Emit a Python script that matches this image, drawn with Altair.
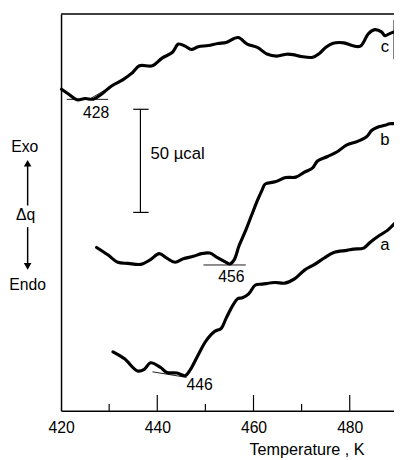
import altair as alt
import pandas as pd

# ---- data (Temperature in K, heat signal in µcal, arbitrary baseline) ----
c_T = [420.1, 421.6, 423.3, 425.0, 426.7, 428.4, 430.5, 432.9, 434.9, 436.3, 439.0, 441.0,
       443.1, 444.4, 445.8, 447.1, 448.5, 450.6, 452.6, 454.3, 456.8, 458.7, 460.8, 462.8,
       464.8, 466.9, 468.2, 469.9, 472.3, 473.7, 475.0, 476.4, 478.8, 480.5, 482.2, 483.9,
       485.2, 486.6, 487.3, 488.3, 489.2]
c_q = [155.9, 153.5, 150.8, 151.4, 151.1, 153.5, 157.5, 160.6, 164.1, 167.3, 167.3, 171.0,
       173.7, 177.8, 176.8, 175.2, 176.5, 177.1, 178.1, 178.6, 181.0, 177.8, 176.2, 173.0,
       172.0, 172.9, 172.7, 171.8, 171.4, 173.3, 176.2, 178.1, 178.4, 177.1, 176.8, 182.9,
       184.8, 183.7, 181.9, 182.9, 183.7]

b_T = [427.4, 429.8, 431.8, 433.9, 436.6, 438.6, 440.4, 442.0, 443.7, 445.4, 447.5, 449.2,
       450.9, 452.6, 454.3, 455.1, 456.0, 457.0, 458.4, 459.6, 460.8, 461.8, 462.4, 464.5,
       466.7, 468.8, 470.6, 472.3, 473.3, 475.4, 477.4, 479.4, 481.5, 483.5, 484.6, 485.9,
       487.3, 488.3, 489.3]
b_q = [79.2, 75.5, 72.0, 71.5, 71.0, 73.3, 76.2, 74.0, 72.0, 73.7, 74.9, 76.2,
       76.5, 74.1, 72.0, 71.2, 73.3, 80.0, 87.6, 94.8, 101.9, 107.1, 109.9, 111.0,
       113.1, 113.3, 115.7, 117.8, 121.1, 123.3, 125.6, 128.9, 130.5, 132.9, 136.0, 137.6,
       138.4, 139.2, 139.2]

a_T = [430.8, 433.2, 435.9, 437.3, 438.6, 440.7, 442.0, 444.1, 445.8, 446.8, 448.5, 450.1,
       451.9, 453.3, 454.3, 455.7, 456.7, 457.7, 459.0, 460.4, 461.8, 464.5, 466.5, 468.6,
       470.6, 472.7, 474.7, 476.7, 479.4, 480.8, 482.9, 484.2, 486.3, 487.9, 489.3]
a_q = [28.6, 25.2, 19.3, 20.1, 23.3, 21.0, 18.6, 18.3, 17.0, 19.7, 27.1, 33.8,
       38.4, 40.0, 44.8, 51.1, 54.3, 54.8, 56.7, 61.0, 61.4, 62.2, 61.9, 64.1,
       68.2, 71.0, 74.1, 76.8, 77.8, 78.4, 78.9, 81.6, 85.2, 87.6, 90.8]

# thin construction lines (onset baselines and tangent)
guide_id = ["c_base", "c_base", "c_tan", "c_tan", "b_base", "b_base", "a_base", "a_base"]
guide_T = [421.2, 429.8, 425.7, 435.2, 449.6, 458.4, 439.0, 446.1]
guide_q = [151.0, 151.0, 150.8, 163.8, 70.7, 70.7, 18.9, 16.2]

# annotations
onset_labels = ["428", "456", "446"]
onset_T = [427.3, 455.4, 448.8]
onset_q = [144.3, 65.0, 12.4]

curve_labels = ["c", "b", "a"]
curve_lab_T = [487.3, 487.3, 487.3]
curve_lab_q = [176.2, 131.4, 80.5]

scale_T = [436.5]
scale_q_low = [96.2]
scale_q_high = [146.2]
scale_cap_T1 = [435.0]
scale_cap_T2 = [438.2]
scale_text = ["50 \u00b5cal"]
scale_text_T = [438.6]
scale_text_q = [124.3]

major_ticks = [440, 460, 480]
minor_ticks = [430, 450, 470]
x_labels = [420, 440, 460, 480]

FONT = "Liberation Sans"
W, H = 339, 404

xs = alt.Scale(domain=[420, 489.2], nice=False, zero=False)
ys = alt.Scale(domain=[0, 192.4], nice=False, zero=False)

curves = pd.DataFrame({
    "T": c_T + b_T + a_T,
    "q": c_q + b_q + a_q,
    "series": ["c"] * len(c_T) + ["b"] * len(b_T) + ["a"] * len(a_T),
})

base_line = alt.Chart(curves).mark_line(
    color="black", strokeWidth=3.2, interpolate="catmull-rom", strokeCap="round", strokeJoin="round"
).encode(
    x=alt.X("T:Q", scale=xs, axis=alt.Axis(
        values=x_labels, ticks=False, grid=False, domainColor="black", domainWidth=1.5,
        labelFont=FONT, labelFontSize=16, labelColor="black", labelPadding=9, labelFlush=False,
        title="Temperature , K", titleFont=FONT, titleFontSize=16.5, titleFontWeight="normal",
        titleColor="black", titleX=250, titleY=45, titleAlign="center", titleBaseline="alphabetic")),
    y=alt.Y("q:Q", scale=ys, axis=alt.Axis(
        labels=False, ticks=False, grid=False, title=None, domainColor="black", domainWidth=1.5)),
    detail="series:N",
)

guides = alt.Chart(pd.DataFrame({"id": guide_id, "T": guide_T, "q": guide_q})).mark_line(
    color="black", strokeWidth=0.9
).encode(x=alt.X("T:Q", scale=xs), y=alt.Y("q:Q", scale=ys), detail="id:N")

onset = alt.Chart(pd.DataFrame({"lab": onset_labels, "T": onset_T, "q": onset_q})).mark_text(
    font=FONT, fontSize=16, color="black", align="center", baseline="middle"
).encode(x=alt.X("T:Q", scale=xs), y=alt.Y("q:Q", scale=ys), text="lab:N")

clabs = alt.Chart(pd.DataFrame({"lab": curve_labels, "T": curve_lab_T, "q": curve_lab_q})).mark_text(
    font=FONT, fontSize=17, color="black", align="center", baseline="middle"
).encode(x=alt.X("T:Q", scale=xs), y=alt.Y("q:Q", scale=ys), text="lab:N")

sb_df = pd.DataFrame({"T": scale_T, "lo": scale_q_low, "hi": scale_q_high,
                      "c1": scale_cap_T1, "c2": scale_cap_T2})
sbar = alt.Chart(sb_df).mark_rule(color="black", strokeWidth=1.2).encode(
    x=alt.X("T:Q", scale=xs), y=alt.Y("lo:Q", scale=ys), y2="hi:Q")
cap_top = alt.Chart(sb_df).mark_rule(color="black", strokeWidth=1.2).encode(
    x=alt.X("c1:Q", scale=xs), x2="c2:Q", y=alt.Y("hi:Q", scale=ys))
cap_bot = alt.Chart(sb_df).mark_rule(color="black", strokeWidth=1.2).encode(
    x=alt.X("c1:Q", scale=xs), x2="c2:Q", y=alt.Y("lo:Q", scale=ys))
sb_text = alt.Chart(pd.DataFrame({"t": scale_text, "T": scale_text_T, "q": scale_text_q})).mark_text(
    font=FONT, fontSize=17, color="black", align="left", baseline="middle"
).encode(x=alt.X("T:Q", scale=xs), y=alt.Y("q:Q", scale=ys), text="t:N")

maj = alt.Chart(pd.DataFrame({"T": major_ticks})).mark_rule(color="black", strokeWidth=1.2).encode(
    x=alt.X("T:Q", scale=xs), y=alt.value(H), y2=alt.value(H - 16))
mino = alt.Chart(pd.DataFrame({"T": minor_ticks})).mark_rule(color="black", strokeWidth=1.2).encode(
    x=alt.X("T:Q", scale=xs), y=alt.value(H), y2=alt.value(H - 7))

one = pd.DataFrame({"k": [0]})
top_line = alt.Chart(one).mark_rule(color="black", strokeWidth=1.5).encode(
    x=alt.value(0), x2=alt.value(W), y=alt.value(0))
right_line = alt.Chart(one).mark_rule(color="black", strokeWidth=1).encode(
    x=alt.value(W), y=alt.value(6), y2=alt.value(46))

def side_text(t, x, y):
    return alt.Chart(pd.DataFrame({"t": [t]})).mark_text(
        font=FONT, fontSize=16, color="black", align="center", baseline="middle"
    ).encode(x=alt.value(x), y=alt.value(y), text="t:N")

exo = side_text("Exo", -37, 136)
dq = side_text("\u0394q", -36, 205)
endo = side_text("Endo", -34, 276)
arr_up = alt.Chart(one).mark_rule(color="black", strokeWidth=1.5).encode(
    x=alt.value(-34), y=alt.value(153), y2=alt.value(195))
arr_dn = alt.Chart(one).mark_rule(color="black", strokeWidth=1.5).encode(
    x=alt.value(-34), y=alt.value(217), y2=alt.value(256))
head_up = alt.Chart(one).mark_point(shape="triangle-up", filled=True, color="black", size=60, opacity=1).encode(
    x=alt.value(-34), y=alt.value(152))
head_dn = alt.Chart(one).mark_point(shape="triangle-down", filled=True, color="black", size=60, opacity=1).encode(
    x=alt.value(-34), y=alt.value(257))

chart = alt.layer(
    base_line, guides, onset, clabs, sbar, cap_top, cap_bot, sb_text, maj, mino,
    top_line, right_line, exo, dq, endo, arr_up, arr_dn, head_up, head_dn
).properties(
    width=W, height=H,
    autosize=alt.AutoSizeParams(type="none"),
    padding={"left": 54, "top": 2, "right": 0, "bottom": 46},
    background="white",
).configure_view(stroke=None)

chart.save("out.html", embed_options={"renderer": "svg", "actions": False})
